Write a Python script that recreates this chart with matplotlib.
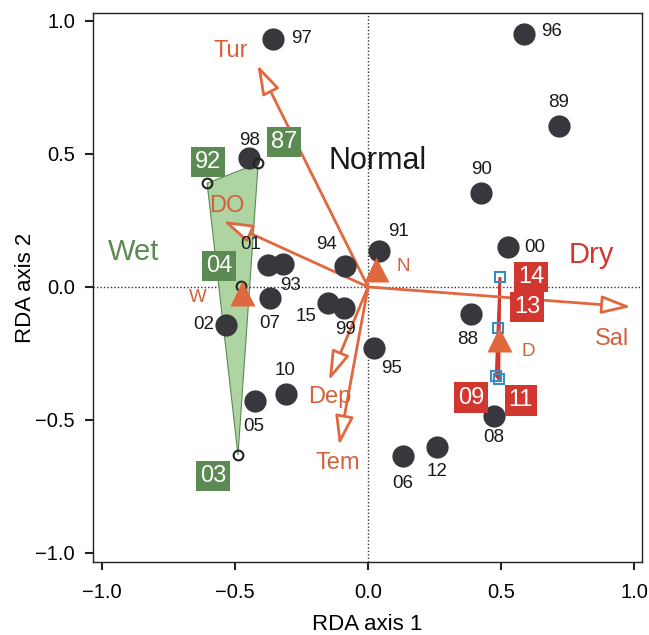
import matplotlib
matplotlib.use("Agg")
import matplotlib.pyplot as plt
from matplotlib.patches import Polygon
import numpy as np

plt.rcParams['font.family'] = ['Liberation Sans', 'DejaVu Sans']

# ---------------- data ----------------
# Normal years (filled dots)
normal_years = ['97', '96', '89', '90', '00', '98', '01', '93', '94', '91', '07', '02',
                '15', '99', '95', '10', '05', '88', '08', '06', '12']
normal_x = [-0.357, 0.585, 0.718, 0.425, 0.526, -0.447, -0.376, -0.320, -0.086, 0.040,
            -0.368, -0.534, -0.150, -0.090, 0.021, -0.308, -0.425, 0.387, 0.474, 0.130, 0.259]
normal_y = [0.933, 0.951, 0.605, 0.355, 0.150, 0.483, 0.082, 0.086, 0.079, 0.135,
            -0.041, -0.142, -0.060, -0.079, -0.228, -0.401, -0.427, -0.103, -0.485, -0.635, -0.603]

# Wet years (open circles, green hull)
wet_years = ['92', '87', '04', '03']
wet_x = [-0.605, -0.413, -0.477, -0.489]
wet_y = [0.390, 0.465, 0.004, -0.632]

# Dry years (open squares, red hull)
dry_years = ['14', '13', '09', '11']
dry_x = [0.496, 0.488, 0.481, 0.492]
dry_y = [0.037, -0.154, -0.333, -0.348]

# Group centroids
cent_names = ['N', 'W', 'D']
cent_x = [0.030, -0.474, 0.492]
cent_y = [0.067, -0.022, -0.195]

# Environmental vectors
env_names = ['Tur', 'DO', 'Sal', 'Dep', 'Tem']
env_x = [-0.416, -0.545, 0.989, -0.147, -0.109]
env_y = [0.835, 0.248, -0.075, -0.352, -0.596]

xticks = [-1.0, -0.5, 0.0, 0.5, 1.0]
yticks = [-1.0, -0.5, 0.0, 0.5, 1.0]

# ---------------- styles ----------------
DOT = '#38373d'
ORANGE = '#e0673e'
ORANGE_TXT = '#d4613c'
GREEN = '#5b8b52'
GREEN_FILL = '#aed4a1'
RED = '#d2372f'
BLUE = '#3a8bc2'

# label offsets (pixels)
normal_off = {'97': (28, 0), '96': (28, 2), '89': (0, 24), '90': (0, 23), '00': (27, 0),
              '98': (0, 18), '01': (-17, 21), '93': (8, -21), '94': (-19, 21), '91': (20, 20),
              '07': (0, -26), '02': (-22, 0), '15': (-22, -14), '99': (1, -22), '95': (18, -21),
              '10': (-1, 23), '05': (-1, -26), '88': (-3, -25), '08': (0, -22), '06': (0, -28),
              '12': (0, -24)}
wet_off = {'92': (1, 21), '87': (26, 21), '04': (-22, 20), '03': (-25, -21)}
dry_off = {'14': (31, 0), '13': (29, 21), '09': (-25, -22), '11': (22, -21)}
env_off = {'Tur': (-27, 14), 'DO': (4, 15), 'Sal': (-19, -32), 'Dep': (1, -16), 'Tem': (-1, -18)}
cent_off = {'N': (27, 3), 'W': (-44, -5), 'D': (29, -13)}


def hull(xs, ys):
    pts = sorted(zip(xs, ys))
    def cross(o, a, b):
        return (a[0]-o[0])*(b[1]-o[1]) - (a[1]-o[1])*(b[0]-o[0])
    lower, upper = [], []
    for p in pts:
        while len(lower) >= 2 and cross(lower[-2], lower[-1], p) <= 0:
            lower.pop()
        lower.append(p)
    for p in reversed(pts):
        while len(upper) >= 2 and cross(upper[-2], upper[-1], p) <= 0:
            upper.pop()
        upper.append(p)
    return lower[:-1] + upper[:-1]


fig = plt.figure(figsize=(6.49, 6.35), dpi=100)
ax = fig.add_axes([0.1433, 0.115, 0.846, 0.8646])
ax.set_xlim(-1.034, 1.030)
ax.set_ylim(-1.034, 1.030)

# reference lines
ax.axhline(0, color='#333333', lw=1, ls=(0, (1, 1.5)), zorder=1)
ax.axvline(0, color='#333333', lw=1, ls=(0, (1, 1.5)), zorder=1)

# hulls
ax.add_patch(Polygon(hull(wet_x, wet_y), closed=True, fc=GREEN_FILL, ec=GREEN, lw=0.8, zorder=2))
ax.add_patch(Polygon(hull(dry_x, dry_y), closed=True, fc=RED, ec=RED, lw=1.8, zorder=2))

# environmental arrows
for n, ex, ey in zip(env_names, env_x, env_y):
    ax.annotate('', xy=(ex, ey), xytext=(0, 0),
                arrowprops=dict(arrowstyle='-|>,head_length=0.9,head_width=0.28',
                                fc='white', ec=ORANGE, lw=2, shrinkA=0, shrinkB=0,
                                mutation_scale=20), zorder=4)
    dx, dy = env_off[n]
    ax.annotate(n, xy=(ex, ey), xytext=(dx, dy), textcoords='offset pixels',
                ha='center', va='center', color=ORANGE_TXT, fontsize=17, zorder=6)

# normal dots
ax.plot(normal_x, normal_y, 'o', color=DOT, ms=16, mec='none', zorder=5)
for n, x, y in zip(normal_years, normal_x, normal_y):
    dx, dy = normal_off[n]
    ax.annotate(n, xy=(x, y), xytext=(dx, dy), textcoords='offset pixels',
                ha='center', va='center', color='#1a1a1a', fontsize=13.5, zorder=6)

# wet points
ax.plot(wet_x, wet_y, 'o', mfc='none', mec='#222222', mew=1.5, ms=7, zorder=5)
for n, x, y in zip(wet_years, wet_x, wet_y):
    dx, dy = wet_off[n]
    ax.annotate(n, xy=(x, y), xytext=(dx, dy), textcoords='offset pixels',
                ha='center', va='center', color='white', fontsize=17, zorder=7,
                bbox=dict(boxstyle='square,pad=0.17', fc=GREEN, ec='none'))

# dry points
ax.plot(dry_x, dry_y, 's', mfc='none', mec=BLUE, mew=1.5, ms=7, zorder=5)
for n, x, y in zip(dry_years, dry_x, dry_y):
    dx, dy = dry_off[n]
    ax.annotate(n, xy=(x, y), xytext=(dx, dy), textcoords='offset pixels',
                ha='center', va='center', color='white', fontsize=17, zorder=7,
                bbox=dict(boxstyle='square,pad=0.17', fc=RED, ec='none'))

# centroids
ax.plot(cent_x, cent_y, '^', color=ORANGE, ms=18, mec='none', zorder=6)
for n, x, y in zip(cent_names, cent_x, cent_y):
    dx, dy = cent_off[n]
    ax.annotate(n, xy=(x, y), xytext=(dx, dy), textcoords='offset pixels',
                ha='center', va='center', color=ORANGE_TXT, fontsize=13.5, zorder=6)

# group names
ax.text(-0.88, 0.131, 'Wet', color=GREEN, fontsize=21, ha='center', va='center')
ax.text(0.838, 0.12, 'Dry', color=RED, fontsize=21, ha='center', va='center')
ax.text(0.034, 0.472, 'Normal', color='#1a1a1a', fontsize=22, ha='center', va='center')

ax.set_xticks(xticks)
ax.set_yticks(yticks)
ax.set_xticklabels([f'{t:.1f}'.replace('-', '\u2212') for t in xticks])
ax.set_yticklabels([f'{t:.1f}'.replace('-', '\u2212') for t in yticks])
ax.tick_params(axis='both', labelsize=14.5, length=6, width=1.5, color='#222222')
ax.tick_params(axis='x', pad=9)
ax.tick_params(axis='y', pad=7)
for s in ax.spines.values():
    s.set_linewidth(1.0)
    s.set_color('#222222')
ax.set_xlabel('RDA axis 1', fontsize=16)
ax.set_ylabel('RDA axis 2', fontsize=16)
ax.xaxis.set_label_coords(0.5, -0.094)
ax.yaxis.set_label_coords(-0.104, 0.5)

fig.savefig('out.png', dpi=100)
